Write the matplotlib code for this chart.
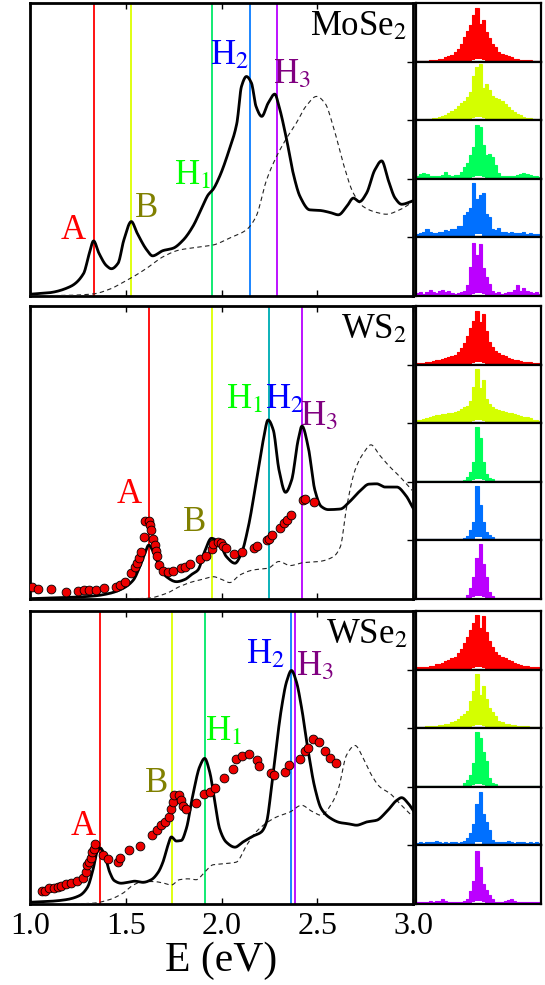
import matplotlib
matplotlib.use("Agg")
import matplotlib.pyplot as plt
import numpy as np

plt.rcParams['font.family'] = ['Liberation Serif', 'DejaVu Serif']
plt.rcParams['mathtext.fontset'] = 'stix'

# ---------------- data ----------------
# MoSe2
mose2_E = [1.0, 1.10, 1.21, 1.28, 1.31, 1.332, 1.36, 1.40, 1.425, 1.46, 1.49, 1.529,
           1.56, 1.61, 1.64, 1.695, 1.747, 1.80, 1.85, 1.90, 1.93, 1.956, 1.99, 2.04,
           2.08, 2.104, 2.13, 2.156, 2.18, 2.21, 2.243, 2.278, 2.30, 2.34, 2.374, 2.41,
           2.46, 2.513, 2.566, 2.61, 2.653, 2.688, 2.72, 2.757, 2.80, 2.836, 2.87, 2.906,
           2.94, 3.0]
mose2_abs = [0.006, 0.011, 0.032, 0.077, 0.146, 0.188, 0.146, 0.103, 0.093, 0.112, 0.191,
             0.254, 0.214, 0.157, 0.137, 0.155, 0.163, 0.191, 0.237, 0.305, 0.345, 0.364,
             0.408, 0.499, 0.59, 0.715, 0.749, 0.727, 0.647, 0.613, 0.658, 0.689, 0.647,
             0.533, 0.419, 0.339, 0.294, 0.292, 0.285, 0.277, 0.305, 0.334, 0.322, 0.351,
             0.43, 0.461, 0.396, 0.334, 0.313, 0.325]
mose2_ipa_E = [1.0, 1.19, 1.33, 1.415, 1.485, 1.54, 1.61, 1.695, 1.78, 1.87, 1.956, 2.04,
               2.13, 2.18, 2.235, 2.287, 2.34, 2.39, 2.44, 2.496, 2.54, 2.583, 2.635, 2.688,
               2.74, 2.81, 2.86, 2.93, 3.0]
mose2_ipa = [0.0, 0.002, 0.007, 0.023, 0.046, 0.066, 0.095, 0.134, 0.157, 0.166, 0.174,
             0.197, 0.226, 0.271, 0.396, 0.476, 0.539, 0.59, 0.647, 0.681, 0.658, 0.579,
             0.453, 0.351, 0.305, 0.285, 0.279, 0.294, 0.322]

# WS2
ws2_E = [1.0, 1.19, 1.33, 1.415, 1.485, 1.54, 1.573, 1.60, 1.62, 1.643, 1.677, 1.712,
         1.765, 1.81, 1.84, 1.877, 1.912, 1.947, 1.982, 2.026, 2.07, 2.104, 2.14, 2.18,
         2.218, 2.243, 2.27, 2.30, 2.334, 2.366, 2.40, 2.42, 2.452, 2.487, 2.52, 2.557,
         2.62, 2.67, 2.72, 2.77, 2.81, 2.854, 2.915, 2.96, 3.0]
ws2_abs = [0.001, 0.005, 0.01, 0.019, 0.036, 0.065, 0.11, 0.156, 0.184, 0.162, 0.11,
           0.076, 0.059, 0.067, 0.082, 0.099, 0.162, 0.207, 0.196, 0.144, 0.122, 0.156,
           0.247, 0.395, 0.543, 0.611, 0.577, 0.44, 0.364, 0.406, 0.543, 0.59, 0.52,
           0.372, 0.316, 0.305, 0.307, 0.333, 0.367, 0.392, 0.393, 0.382, 0.382, 0.355, 0.31]
ws2_ipa_E = [1.0, 1.36, 1.607, 1.712, 1.78, 1.85, 1.90, 1.957, 2.0, 2.043, 2.096, 2.165,
             2.243, 2.30, 2.357, 2.426, 2.51, 2.583, 2.62, 2.653, 2.697, 2.74, 2.78,
             2.826, 2.88, 2.93, 3.0]
ws2_ipa = [0.0, 0.0, 0.002, 0.019, 0.042, 0.059, 0.067, 0.076, 0.067, 0.056, 0.082,
           0.099, 0.105, 0.128, 0.114, 0.124, 0.128, 0.144, 0.178, 0.314, 0.44, 0.497,
           0.526, 0.49, 0.45, 0.418, 0.367]
ws2_exp_E = [1.011, 1.041, 1.11, 1.189, 1.253, 1.284, 1.31, 1.345, 1.384, 1.447, 1.471,
             1.497, 1.529, 1.55, 1.558, 1.567, 1.578, 1.594, 1.602, 1.62, 1.628, 1.634,
             1.643, 1.651, 1.66, 1.664, 1.674, 1.695, 1.72, 1.744, 1.787, 1.81, 1.837,
             1.89, 1.92, 1.95, 1.958, 1.982, 1.996, 2.008, 2.022, 2.066, 2.108, 2.17,
             2.183, 2.235, 2.247, 2.266, 2.305, 2.327, 2.343, 2.365, 2.427, 2.435, 2.482]
ws2_exp = [0.042, 0.034, 0.033, 0.024, 0.026, 0.029, 0.03, 0.03, 0.038, 0.042, 0.046,
           0.059, 0.088, 0.11, 0.124, 0.139, 0.162, 0.211, 0.266, 0.266, 0.253, 0.236,
           0.204, 0.184, 0.165, 0.145, 0.116, 0.097, 0.093, 0.095, 0.105, 0.11, 0.121,
           0.135, 0.147, 0.169, 0.186, 0.195, 0.19, 0.181, 0.173, 0.153, 0.159, 0.173,
           0.181, 0.201, 0.205, 0.218, 0.243, 0.258, 0.27, 0.287, 0.338, 0.341, 0.33]

# WSe2
wse2_E = [1.0, 1.10, 1.189, 1.259, 1.30, 1.33, 1.35, 1.367, 1.39, 1.416, 1.44, 1.476,
          1.51, 1.546, 1.59, 1.633, 1.67, 1.694, 1.72, 1.738, 1.764, 1.79, 1.816, 1.85,
          1.886, 1.912, 1.938, 1.965, 1.99, 2.025, 2.07, 2.11, 2.165, 2.208, 2.235, 2.26,
          2.287, 2.313, 2.34, 2.365, 2.39, 2.418, 2.45, 2.488, 2.52, 2.566, 2.618, 2.66,
          2.705, 2.757, 2.81, 2.86, 2.915, 2.94, 2.975, 3.0]
wse2_abs = [0.006, 0.009, 0.015, 0.029, 0.057, 0.12, 0.177, 0.191, 0.166, 0.109, 0.08,
            0.071, 0.074, 0.078, 0.074, 0.083, 0.109, 0.143, 0.2, 0.229, 0.215, 0.217,
            0.257, 0.371, 0.469, 0.497, 0.451, 0.349, 0.257, 0.211, 0.194, 0.211, 0.232,
            0.246, 0.28, 0.394, 0.543, 0.669, 0.76, 0.797, 0.76, 0.669, 0.531, 0.394,
            0.326, 0.294, 0.278, 0.274, 0.269, 0.28, 0.286, 0.314, 0.354, 0.363, 0.343, 0.32]
wse2_ipa_E = [1.0, 1.19, 1.33, 1.415, 1.485, 1.54, 1.59, 1.642, 1.694, 1.738, 1.78, 1.825,
              1.868, 1.912, 1.956, 2.008, 2.077, 2.13, 2.18, 2.235, 2.287, 2.357, 2.418,
              2.47, 2.52, 2.575, 2.61, 2.653, 2.697, 2.74, 2.783, 2.826, 2.88, 2.93, 3.0]
wse2_ipa = [0.0, 0.0, 0.003, 0.015, 0.037, 0.065, 0.077, 0.077, 0.072, 0.065, 0.083,
            0.086, 0.083, 0.109, 0.134, 0.137, 0.143, 0.2, 0.246, 0.277, 0.297, 0.314,
            0.337, 0.317, 0.303, 0.343, 0.394, 0.509, 0.541, 0.497, 0.44, 0.4, 0.377,
            0.343, 0.297]
wse2_exp_E = [1.064, 1.08, 1.10, 1.124, 1.145, 1.163, 1.189, 1.215, 1.245, 1.276, 1.29,
              1.297, 1.31, 1.316, 1.325, 1.332, 1.342, 1.381, 1.407, 1.459, 1.468, 1.516,
              1.572, 1.638, 1.663, 1.686, 1.707, 1.726, 1.734, 1.747, 1.75, 1.776, 1.787,
              1.80, 1.813, 1.868, 1.91, 1.938, 1.965, 2.012, 2.06, 2.078, 2.107, 2.144,
              2.186, 2.196, 2.256, 2.273, 2.33, 2.353, 2.409, 2.435, 2.452, 2.478, 2.51,
              2.54, 2.566, 2.596]
wse2_exp = [0.046, 0.046, 0.054, 0.054, 0.059, 0.063, 0.069, 0.072, 0.08, 0.088, 0.109,
            0.134, 0.143, 0.157, 0.177, 0.189, 0.206, 0.169, 0.154, 0.143, 0.157, 0.183,
            0.198, 0.237, 0.251, 0.269, 0.28, 0.297, 0.326, 0.349, 0.371, 0.371, 0.354,
            0.335, 0.326, 0.346, 0.375, 0.383, 0.397, 0.429, 0.461, 0.495, 0.505, 0.513,
            0.491, 0.472, 0.446, 0.44, 0.451, 0.474, 0.495, 0.522, 0.531, 0.562, 0.554,
            0.522, 0.499, 0.482]

# exciton energies (A, B, H1, H2, H3) for each material
mose2_lines = [1.332, 1.526, 1.95, 2.146, 2.289]
ws2_lines = [1.62, 1.95, 2.249, 2.249, 2.42]
wse2_lines = [1.367, 1.741, 1.912, 2.362, 2.385]

peak_names = ['A', 'B', r'H$_1$', r'H$_2$', r'H$_3$']
mose2_label_pos = [(1.224, 0.225), (1.607, 0.30), (1.85, 0.41), (2.04, 0.82), (2.37, 0.755)]
ws2_label_pos = [(1.52, 0.357), (1.86, 0.26), (2.12, 0.68), (2.33, 0.68), (2.51, 0.623)]
wse2_label_pos = [(1.276, 0.263), (1.66, 0.41), (2.01, 0.589), (2.23, 0.85), (2.49, 0.81)]

# exciton wavefunction histograms, 40 bins each (A, B, H1, H2, H3)
mose2_hist = [
    [1, 1, 1, 1, 2, 2, 3, 4, 5, 7, 9, 12, 16, 22, 30, 42, 52, 62, 80, 92,
     64, 71, 50, 40, 30, 24, 17, 13, 11, 9, 7, 5, 4, 3, 3, 2, 2, 1, 1, 1],
    [1, 1, 1, 2, 2, 3, 4, 5, 7, 9, 12, 15, 19, 24, 30, 33, 40, 48, 75, 91,
     95, 55, 62, 52, 42, 38, 36, 33, 28, 22, 18, 14, 11, 8, 6, 4, 3, 2, 1, 1],
    [4, 8, 10, 8, 5, 4, 4, 5, 6, 11, 7, 5, 7, 6, 12, 20, 27, 40, 55, 92,
     88, 57, 40, 42, 38, 24, 10, 5, 4, 5, 4, 5, 6, 8, 10, 9, 6, 5, 4, 3],
    [6, 8, 10, 15, 9, 7, 8, 9, 10, 13, 11, 15, 14, 20, 19, 38, 44, 50, 92, 66,
     72, 75, 40, 35, 15, 12, 16, 10, 9, 8, 10, 8, 7, 8, 9, 6, 7, 6, 5, 6],
    [5, 6, 4, 7, 10, 6, 5, 8, 10, 6, 8, 5, 4, 5, 6, 8, 18, 50, 91, 70,
     88, 47, 32, 20, 8, 5, 6, 4, 5, 7, 6, 10, 18, 9, 13, 8, 6, 5, 7, 4],
]
ws2_hist = [
    [3, 3, 3, 4, 5, 6, 7, 8, 10, 11, 13, 15, 17, 22, 29, 37, 49, 62, 75, 92,
     72, 86, 58, 38, 30, 23, 19, 16, 14, 12, 10, 8, 7, 6, 5, 4, 4, 3, 3, 3],
    [5, 6, 7, 9, 11, 12, 14, 14, 15, 16, 17, 18, 19, 21, 24, 28, 30, 38, 61, 93,
     60, 73, 41, 33, 28, 24, 22, 20, 19, 18, 17, 16, 14, 13, 11, 10, 8, 6, 5, 4],
    [2, 2, 2, 2, 2, 2, 2, 2, 2, 2, 2, 2, 2, 2, 2, 3, 8, 16, 34, 93,
     74, 34, 13, 6, 4, 2, 2, 2, 2, 2, 2, 2, 2, 2, 2, 2, 2, 2, 2, 2],
    [3, 3, 3, 3, 3, 3, 3, 3, 3, 3, 3, 3, 3, 3, 3, 4, 8, 17, 32, 92,
     60, 32, 14, 9, 5, 3, 3, 3, 3, 3, 3, 3, 3, 3, 3, 3, 3, 3, 3, 3],
    [2, 2, 2, 2, 2, 2, 2, 2, 2, 2, 2, 2, 2, 2, 2, 2, 6, 18, 38, 70,
     93, 60, 38, 12, 5, 2, 2, 2, 2, 2, 2, 2, 2, 2, 2, 2, 2, 2, 2, 2],
]
wse2_hist = [
    [4, 4, 5, 5, 6, 7, 9, 10, 12, 14, 17, 20, 22, 28, 36, 45, 56, 68, 80, 93,
     71, 91, 65, 48, 38, 30, 25, 21, 19, 16, 14, 12, 10, 8, 7, 6, 5, 5, 4, 4],
    [2, 2, 2, 3, 3, 4, 4, 5, 6, 7, 8, 10, 13, 16, 20, 24, 30, 46, 63, 92,
     57, 72, 49, 35, 28, 20, 13, 10, 8, 7, 6, 5, 4, 4, 3, 3, 2, 2, 2, 2],
    [1, 1, 1, 1, 1, 1, 1, 1, 1, 1, 1, 1, 1, 1, 1, 6, 12, 20, 41, 93,
     84, 60, 44, 15, 6, 4, 1, 1, 1, 1, 1, 1, 1, 1, 1, 1, 1, 1, 1, 1],
    [4, 5, 4, 5, 6, 5, 7, 5, 4, 5, 4, 6, 5, 4, 6, 8, 13, 22, 36, 71,
     91, 53, 40, 27, 10, 6, 5, 6, 5, 8, 6, 4, 5, 6, 5, 4, 5, 4, 5, 4],
    [3, 4, 3, 4, 5, 4, 5, 6, 8, 5, 4, 3, 4, 3, 4, 6, 8, 22, 40, 91,
     63, 34, 24, 16, 8, 4, 3, 4, 5, 7, 8, 5, 4, 3, 4, 3, 4, 3, 4, 3],
]
# small white hole at the base of every histogram (bins 18-21)
notch = [3, 5, 5, 3]

line_colors = ['#ff0000', '#dcff00', '#00e868', '#0a7cff', '#b800ff']
label_colors = ['#ff0000', '#808000', '#00ff00', '#0000ff', '#800080']
hist_colors = ['#ff0000', '#d4ff00', '#00ff5a', '#0070ff', '#bb00ff']

materials = [
    ('MoSe$_2$', mose2_E, mose2_abs, mose2_ipa_E, mose2_ipa, None, None,
     mose2_lines, mose2_label_pos, mose2_hist),
    ('WS$_2$', ws2_E, ws2_abs, ws2_ipa_E, ws2_ipa, ws2_exp_E, ws2_exp,
     ws2_lines, ws2_label_pos, ws2_hist),
    ('WSe$_2$', wse2_E, wse2_abs, wse2_ipa_E, wse2_ipa, wse2_exp_E, wse2_exp,
     wse2_lines, wse2_label_pos, wse2_hist),
]


def smooth(x, y, xn):
    x = np.asarray(x, float)
    y = np.asarray(y, float)
    h = np.diff(x)
    d = np.diff(y) / h
    m = np.zeros_like(y)
    for i in range(1, len(x) - 1):
        if d[i - 1] * d[i] > 0:
            w1 = 2 * h[i] + h[i - 1]
            w2 = h[i] + 2 * h[i - 1]
            m[i] = (w1 + w2) / (w1 / d[i - 1] + w2 / d[i])
    m[0], m[-1] = d[0], d[-1]
    idx = np.clip(np.searchsorted(x, xn) - 1, 0, len(h) - 1)
    t = (xn - x[idx]) / h[idx]
    return ((2 * t**3 - 3 * t**2 + 1) * y[idx] + (t**3 - 2 * t**2 + t) * h[idx] * m[idx]
            + (-2 * t**3 + 3 * t**2) * y[idx + 1] + (t**3 - t**2) * h[idx] * m[idx + 1])


# ---------------- figure ----------------
fig = plt.figure(figsize=(5.45, 9.85), dpi=100)

left, width = 0.055, 0.703
sleft, swidth = 0.7633, 0.2294
bottoms = [0.6995, 0.3919, 0.0822]
height = 0.2975

E_fine = np.linspace(1.0, 3.0, 800)

for k, (name, E, a, Ei, ai, Ee, ae, lines, lpos, hists) in enumerate(materials):
    ax = fig.add_axes([left, bottoms[k], width, height])
    ax.plot(E_fine, smooth(E, a, E_fine), color='black', lw=2.0, zorder=4)
    ax.plot(E_fine, smooth(Ei, ai, E_fine), color='#222222', lw=0.8,
            ls=(0, (4, 3)), zorder=3)
    prev = None
    for e, c in zip(lines, line_colors):
        # coinciding lines blend into one teal line
        ax.axvline(e, color=c, lw=1.3, zorder=2, alpha=0.55 if e == prev else 1.0)
        prev = e
    if Ee is not None:
        ax.scatter(Ee, ae, s=40, c='#ee0000', edgecolors='black',
                   linewidths=0.6, zorder=5)
    for txt, (px, py), c in zip(peak_names, lpos, label_colors):
        ax.text(px, py, txt, color=c, fontsize=25, ha='center', va='center', zorder=6)
    ax.text(0.985, 0.975, name, transform=ax.transAxes, ha='right', va='top',
            fontsize=25, zorder=6)
    ax.set_xlim(1.0, 3.0)
    ax.set_ylim(0, 1.0)
    ax.set_xticks([1.0, 1.5, 2.0, 2.5, 3.0])
    ax.set_yticks([0.2, 0.4, 0.6, 0.8])
    ax.tick_params(direction='in', top=True, right=True, left=False,
                   length=4, width=1, labelleft=False)
    if k < 2:
        ax.tick_params(labelbottom=False)
    else:
        ax.set_xticklabels(['1.0', '1.5', '2.0', '2.5', '3.0'], fontsize=23)
        ax.tick_params(pad=6)
        ax.set_xlabel('E (eV)', fontsize=30, labelpad=0)
    for s in ax.spines.values():
        s.set_linewidth(2.0)

    # small panels with histograms
    sh = height / 5
    for j, hv in enumerate(hists):
        sax = fig.add_axes([sleft, bottoms[k] + height - (j + 1) * sh, swidth, sh])
        edges = np.arange(len(hv) + 1)
        sax.stairs(hv, edges, fill=True, color=hist_colors[j])
        sax.stairs(hv, edges, color=hist_colors[j], lw=0.8)
        sax.stairs(notch, np.arange(18, 23), fill=True, color='white')
        sax.set_xlim(0, len(hv))
        sax.set_ylim(0, 100)
        sax.set_xticks([])
        sax.set_yticks([])
        for s in sax.spines.values():
            s.set_linewidth(1.6)

fig.savefig('out.png', dpi=100)
